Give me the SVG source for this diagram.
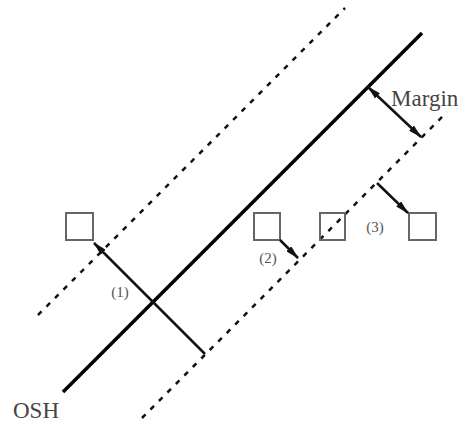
<svg xmlns="http://www.w3.org/2000/svg" width="465" height="427" viewBox="0 0 465 427">
<style>
.dash{stroke:#111;stroke-width:2.5;stroke-dasharray:5 7;fill:none}
.osh{stroke:#000;stroke-width:3.5;fill:none}
.arr{stroke:#111;stroke-width:2.5;fill:none}
.sq{fill:none;stroke:#666;stroke-width:2}
.lbl{font-family:"Liberation Serif",serif;fill:#555;font-size:15px}
.big{font-family:"Liberation Serif",serif;fill:#444;font-size:23px}
</style>
<defs>
<marker id="ah" markerUnits="userSpaceOnUse" markerWidth="14" markerHeight="7" refX="13" refY="3.5" orient="auto-start-reverse">
<path d="M0,0 L14,3.5 L0,7 z" fill="#111"/>
</marker>
</defs>
<g id="boundaries">
<line class="dash" x1="38" y1="315" x2="345" y2="8"/>
<line class="osh" x1="63" y1="392" x2="422" y2="33"/>
<line class="dash" x1="142" y1="418" x2="447" y2="112"/>
</g>
<g id="s1"><rect class="sq" x="66" y="213" width="27" height="27"/></g>
<g id="s2"><rect class="sq" x="254" y="213" width="26" height="27"/></g>
<g id="s3"><rect class="sq" x="320" y="213" width="25" height="27"/></g>
<g id="s4"><rect class="sq" x="409" y="213" width="27" height="27"/></g>
<g id="connectors">
<line class="arr" x1="205" y1="354" x2="94" y2="243" marker-end="url(#ah)"/>
<line class="arr" x1="280" y1="240" x2="298" y2="258" marker-end="url(#ah)"/>
<line class="arr" x1="377" y1="183" x2="408" y2="213" marker-end="url(#ah)"/>
<line class="arr" x1="368" y1="87" x2="421" y2="137" marker-start="url(#ah)" marker-end="url(#ah)"/>
</g>
<g id="labels">
<text class="lbl" x="120" y="297" text-anchor="middle">(1)</text>
<text class="lbl" x="268" y="263" text-anchor="middle">(2)</text>
<text class="lbl" x="375" y="232" text-anchor="middle">(3)</text>
<text class="big" x="13" y="418">OSH</text>
<text class="big" x="391" y="106" font-size="24">Margin</text>
</g>
</svg>
